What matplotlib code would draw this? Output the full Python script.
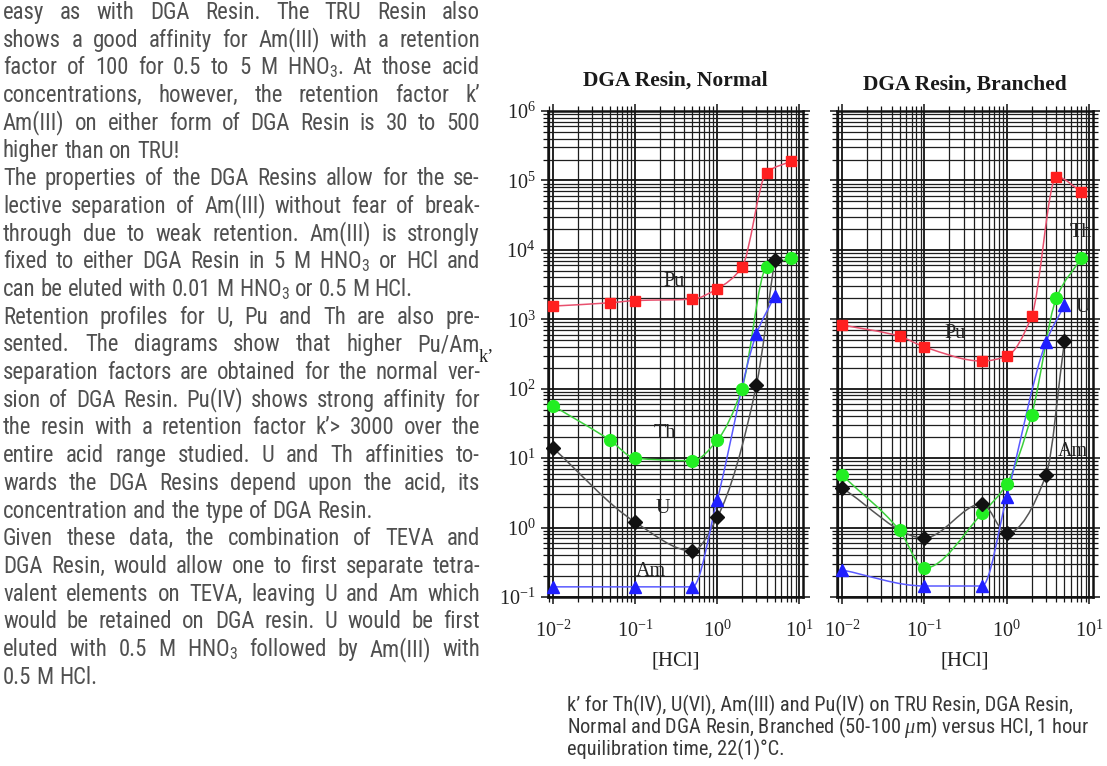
import numpy as np
import matplotlib
matplotlib.use("Agg")
import matplotlib.pyplot as plt
from matplotlib import font_manager, ticker
from matplotlib.path import Path
from matplotlib.patches import PathPatch

W, H = 1107, 766

# ---------------- data ----------------
hcl_8 = [0.01, 0.05, 0.1, 0.5, 1, 2, 4, 8]
hcl_6 = [0.01, 0.1, 0.5, 1, 3, 5]

normal_pu = [1550, 1730, 1860, 1950, 2750, 5600, 1.3e5, 1.9e5]
normal_th = [57, 18, 10, 9.2, 18, 100, 5700, 7600]
normal_u = [14, 1.2, 0.46, 1.4, 112, 7100]
normal_am = [0.14, 0.14, 0.14, 2.5, 610, 2150]

branched_pu = [830, 570, 400, 250, 295, 1110, 1.13e5, 6.9e4]
branched_th = [5.7, 0.91, 0.26, 1.6, 4.3, 42, 2040, 7600]
branched_u = [3.7, 0.71, 2.2, 0.83, 5.8, 490]
branched_am = [0.245, 0.144, 0.144, 2.8, 475, 1600]

panel_titles = ["DGA Resin, Normal", "DGA Resin, Branched"]
labels_normal = [("Pu", 0.30, 3500), ("Th", 0.23, 23), ("U", 0.22, 1.9), ("Am", 0.155, 0.23)]
labels_branched = [("Pu", 0.235, 630), ("Th", 8.0, 1.8e4), ("U", 8.4, 1500), ("Am", 6.3, 12.6)]

HNO3 = r"$\mathregular{HNO_3}$"
body_lines = [
    "easy as with DGA Resin. The TRU Resin also",
    "shows a good affinity for Am(III) with a retention",
    f"factor of 100 for 0.5 to 5 M {HNO3}. At those acid",
    "concentrations, however, the retention factor k\u2019",
    "Am(III) on either form of DGA Resin is 30 to 500",
    "higher than on TRU!",
    "The properties of the DGA Resins allow for the se-",
    "lective separation of Am(III) without fear of break-",
    "through due to weak retention. Am(III) is strongly",
    f"fixed to either DGA Resin in 5 M {HNO3} or HCl and",
    f"can be eluted with 0.01 M {HNO3} or 0.5 M HCl.",
    "Retention profiles for U, Pu and Th are also pre-",
    "sented. The diagrams show that higher Pu/Am",
    "separation factors are obtained for the normal ver-",
    "sion of DGA Resin. Pu(IV) shows strong affinity for",
    "the resin with a retention factor k\u2019> 3000 over the",
    "entire acid range studied. U and Th affinities to-",
    "wards the DGA Resins depend upon the acid, its",
    "concentration and the type of DGA Resin.",
    "Given these data, the combination of TEVA and",
    "DGA Resin, would allow one to first separate tetra-",
    "valent elements on TEVA, leaving U and Am which",
    "would be retained on DGA resin. U would be first",
    f"eluted with 0.5 M {HNO3} followed by Am(III) with",
    "0.5 M HCl.",
]
paragraph_ends = {5, 10, 18, 24}

caption_lines = [
    "k\u2019 for Th(IV), U(VI), Am(III) and Pu(IV) on TRU Resin, DGA Resin,",
    r"Normal and DGA Resin, Branched (50-100 $\mu$m) versus HCl, 1 hour",
    "equilibration time, 22(1)\u00b0C.",
]

# ---------------- fonts ----------------
names = {f.name for f in font_manager.fontManager.ttflist}
def pick(cands):
    for c in cands:
        if c in names:
            return c
    return "DejaVu Sans"
SANS = pick(["Roboto Condensed", "Archivo Narrow", "Liberation Sans Narrow", "Roboto", "Liberation Sans"])
SERIF = pick(["Liberation Serif", "DejaVu Serif"])

plt.rcParams["mathtext.fontset"] = "custom"
plt.rcParams["mathtext.rm"] = SERIF
plt.rcParams["mathtext.it"] = SERIF + ":italic"

fig = plt.figure(figsize=(W / 100, H / 100), dpi=100)
renderer = fig.canvas.get_renderer()

RED, RED_L = "#ff1f1f", "#e8506e"
GRN, GRN_L = "#22ee22", "#3ccf3c"
BLK, BLK_L = "#111111", "#555555"
BLU, BLU_L = "#1f1fff", "#5a5aff"


def smooth_path(x, y):
    lx = np.log10(np.asarray(x, float))
    ly = np.log10(np.asarray(y, float))
    h = np.diff(lx)
    d = np.diff(ly) / h
    n = len(lx)
    m = np.zeros(n)
    m[0], m[-1] = d[0], d[-1]
    for k in range(1, n - 1):
        if d[k - 1] * d[k] <= 0:
            m[k] = 0.0
        else:
            w1 = 2 * h[k] + h[k - 1]
            w2 = h[k] + 2 * h[k - 1]
            m[k] = (w1 + w2) / (w1 / d[k - 1] + w2 / d[k])
    verts = [(lx[0], ly[0])]
    codes = [Path.MOVETO]
    for k in range(n - 1):
        verts += [(lx[k] + h[k] / 3, ly[k] + m[k] * h[k] / 3),
                  (lx[k + 1] - h[k] / 3, ly[k + 1] - m[k + 1] * h[k] / 3),
                  (lx[k + 1], ly[k + 1])]
        codes += [Path.CURVE4] * 3
    return Path(10 ** np.array(verts), codes)


def panel(rect, series, labels, title, title_y, show_y):
    ax = fig.add_axes(rect)
    ax.set_xscale("log")
    ax.set_yscale("log")
    ax.set_xlim(10 ** -2.06, 10 ** 1.045)
    ax.set_ylim(0.1, 1e6)
    for axis in (ax.xaxis, ax.yaxis):
        axis.set_major_locator(ticker.LogLocator(base=10, numticks=12))
        axis.set_minor_locator(ticker.LogLocator(base=10, subs=np.arange(2, 10), numticks=12))
        axis.set_minor_formatter(ticker.NullFormatter())
    ax.grid(True, which="major", color="#111111", lw=1.3)
    ax.grid(True, which="minor", color="#1e1e1e", lw=0.9)
    ax.set_axisbelow(True)
    ax.tick_params(which="both", direction="out", top=True, right=True,
                   colors="#111111", labelcolor="#222222",
                   labelfontfamily=SERIF, labelsize=14.5)
    ax.tick_params(which="major", length=5, width=1.1)
    ax.tick_params(which="minor", length=3.5, width=0.9)
    ax.tick_params(axis="x", pad=12)
    ax.tick_params(axis="y", pad=4, labelleft=show_y)
    for s in ax.spines.values():
        s.set_linewidth(1.8)
        s.set_color("#111111")
    for x, y, mk, ms, mc, lc in series:
        ax.add_patch(PathPatch(smooth_path(x, y), fc="none", ec=lc, lw=1.1, zorder=3))
        ax.plot(x, y, ls="none", marker=mk, ms=ms, mfc=mc, mec=mc, zorder=4, clip_on=False)
    for s, x, y in labels:
        ax.text(x, y, s, ha="center", va="center", fontfamily=SERIF, fontsize=14.5,
                color="#222222", zorder=5)
    ax.text(0.5, title_y, title, transform=ax.transAxes, ha="center", va="baseline",
            fontfamily=SERIF, fontweight="bold", fontsize=15.5, color="#1a1a1a")
    ax.text(0.5, -0.14, "[HCl]", transform=ax.transAxes, ha="center", va="baseline",
            fontfamily=SERIF, fontsize=15, color="#222222")
    return ax


bot = 1 - 597 / H
hgt = (597 - 111) / H
ax1 = panel([548 / W, bot, (803 - 548) / W, hgt],
            [(hcl_8, normal_pu, "s", 7.8, RED, RED_L),
             (hcl_8, normal_th, "o", 8.5, GRN, GRN_L),
             (hcl_6, normal_u, "D", 7.5, BLK, BLK_L),
             (hcl_6, normal_am, "^", 8.8, BLU, BLU_L)],
            labels_normal, panel_titles[0], 1.052, True)
ax2 = panel([837 / W, bot, (1093 - 837) / W, hgt],
            [(hcl_8, branched_pu, "s", 7.8, RED, RED_L),
             (hcl_8, branched_th, "o", 8.5, GRN, GRN_L),
             (hcl_6, branched_u, "D", 7.5, BLK, BLK_L),
             (hcl_6, branched_am, "^", 8.8, BLU, BLU_L)],
            labels_branched, panel_titles[1], 1.045, False)

fig.text(486 / W, 1 - 358 / H, "k\u2019", ha="center", va="center",
         fontfamily=SERIF, fontsize=13, color="#222222")

# ---------------- justified text column ----------------
TEXT_C = "#505050"
fam = [SANS, "DejaVu Sans"]


def width(s, size):
    t = fig.text(0, 0, s, fontsize=size, family=fam)
    w = t.get_window_extent(renderer).width
    t.remove()
    return w


x0, x1 = 3, 480
size = 16.4
need = 0
for i, line in enumerate(body_lines):
    if i in paragraph_ends:
        continue
    words = line.split(" ")
    tot = sum(width(w, size) for w in words) + (len(words) - 1) * 0.18 * size * 100 / 72
    need = max(need, tot / (x1 - x0))
if need > 1:
    size = size / need

space = width("a a", size) - width("aa", size)
for i, line in enumerate(body_lines):
    base = 19 + 27.7 * i
    words = line.split(" ")
    ws = [width(w, size) for w in words]
    if i in paragraph_ends or len(words) == 1:
        gap = space
    else:
        gap = (x1 - x0 - sum(ws)) / (len(words) - 1)
    x = x0
    for w, wd in zip(words, ws):
        fig.text(x / W, 1 - base / H, w, fontsize=size, family=fam, color=TEXT_C,
                 ha="left", va="baseline")
        x += wd + gap

# caption: scale so the first two lines span about the reference width
csize = size * 0.8
cw = 0.5 * (width(caption_lines[0], csize) + width(caption_lines[1], csize))
csize = csize * (1082 - 567) / cw
for i, line in enumerate(caption_lines):
    fig.text(567 / W, 1 - (711 + 22 * i) / H, line, fontsize=csize, family=fam,
             color="#383838", ha="left", va="baseline")

fig.savefig("out.png", dpi=100)
